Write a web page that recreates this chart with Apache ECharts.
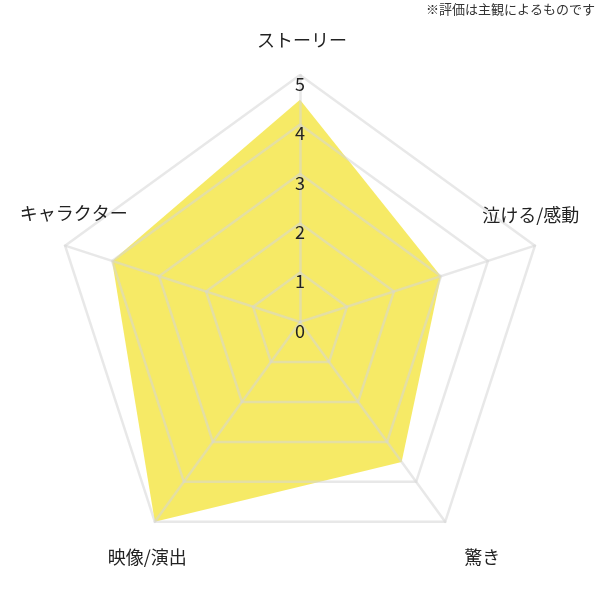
<!DOCTYPE html>
<html>
<head>
<meta charset="utf-8">
<script src="https://cdn.jsdelivr.net/npm/echarts@6/dist/echarts.min.js"></script>
<style>
html,body{margin:0;padding:0;background:#ffffff;}
#chart{width:600px;height:600px;}
</style>
</head>
<body>
<div id="chart"></div>
<script>
// ---- data ----
const indicators = ['ストーリー', 'キャラクター', '映像/演出', '驚き', '泣ける/感動'];
const scores = [4.5, 4.0, 5.0, 3.5, 3.0];
const maxScore = 5;
const tickCount = 5;
const note = '※評価は主観によるものです';

// ---- styles ----
const FONT = '"Noto Sans CJK JP", "Noto Sans", sans-serif';
const GRID = 'rgba(213,213,213,0.55)';
const namePads = [
  [0, 0, 0, 4],
  [0, 0, 43, 84],
  [15, 0, 0, 26],
  [15, 0, 0, 33],
  [0, 75, 39, 0]
];
const rich = {};
namePads.forEach((p, i) => {
  rich['p' + i] = { fontSize: 18, fontFamily: FONT, color: '#222', padding: p };
});

const chart = echarts.init(document.getElementById('chart'), null, { renderer: 'canvas' });
chart.setOption({
  backgroundColor: '#ffffff',
  animation: false,
  title: {
    text: note,
    right: 5,
    top: 3,
    padding: 0,
    textStyle: { fontSize: 13, fontWeight: 'normal', color: '#333', fontFamily: FONT }
  },
  radar: {
    center: ['50%', 322],
    radius: 247,
    startAngle: 90,
    splitNumber: tickCount,
    shape: 'polygon',
    z: 5,
    nameGap: 35,
    indicator: indicators.map((n, i) => {
      const ind = { name: n, min: 0, max: maxScore };
      if (i === 0) {
        ind.axisLabel = {
          show: true, margin: 0, align: 'center', verticalAlign: 'top',
          fontSize: 18, color: '#222', fontFamily: FONT
        };
      }
      return ind;
    }),
    axisName: {
      align: 'center',
      verticalAlign: 'middle',
      formatter: (name) => '{p' + indicators.indexOf(name) + '|' + name + '}',
      rich: rich
    },
    splitArea: { show: false },
    splitLine: { lineStyle: { color: GRID, width: 2.5 } },
    axisLine: { lineStyle: { color: GRID, width: 2.5 } },
    axisTick: { show: false },
    axisLabel: { show: false }
  },
  series: [{
    type: 'radar',
    z: 2,
    symbol: 'none',
    lineStyle: { width: 0, opacity: 0 },
    areaStyle: { color: 'rgba(240,220,0,0.6)', opacity: 1 },
    data: [{ value: scores, name: '評価' }]
  }]
});
</script>
</body>
</html>
